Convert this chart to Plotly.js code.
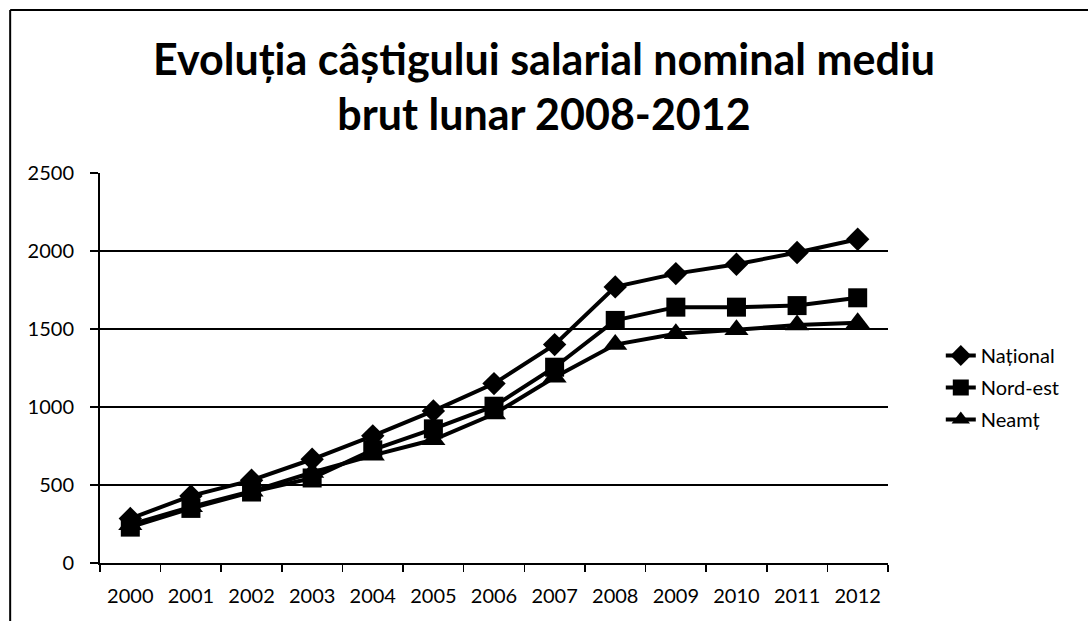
<!DOCTYPE html>
<html>
<head>
<meta charset="utf-8">
<script src="https://cdn.plot.ly/plotly-3.0.1.min.js"></script>
<style>
  html, body { margin: 0; padding: 0; background: #fff; }
  #chart { width: 1088px; height: 621px; }
</style>
</head>
<body>
<div id="chart"></div>
<script>
// Years on the x axis
let years = ["2000", "2001", "2002", "2003", "2004", "2005", "2006", "2007", "2008", "2009", "2010", "2011", "2012"];

// Average gross monthly wage (lei)
let national = [285, 430, 530, 665, 815, 975, 1150, 1400, 1770, 1855, 1915, 1990, 2075];
let nordEst = [230, 350, 455, 545, 725, 860, 1005, 1255, 1555, 1640, 1640, 1650, 1700];
let neamt = [245, 360, 460, 580, 690, 790, 955, 1190, 1400, 1470, 1495, 1525, 1540];

let seriesNames = ["Național", "Nord-est", "Neamț"];
let seriesValues = [national, nordEst, neamt];
let markerSymbols = ["diamond", "square", "triangle-up"];
let markerSizes = [18, 19, 21];

let fontFamily = "Lato, 'Open Sans', sans-serif";

// One trace per series
let traces = seriesNames.map((name, i) => ({
    x: years,
    y: seriesValues[i],
    name: name,
    legendgroup: name,
    type: 'scatter',
    mode: 'lines+markers',
    line: { color: 'black', width: 4 },
    marker: { symbol: markerSymbols[i], size: markerSizes[i], color: 'black' }
}));

let layout = {
    width: 1088,
    height: 621,
    paper_bgcolor: 'white',
    plot_bgcolor: 'white',
    margin: { l: 100, r: 200, t: 173, b: 58 },
    font: { family: fontFamily, color: 'black', size: 20 },
    title: {
        text: 'Evoluția câștigului salarial nominal mediu<br>brut lunar 2008-2012',
        font: { family: fontFamily, size: 43, color: 'black', weight: 'bold' },
        x: 0.5,
        xref: 'container',
        y: 0.88,
        yref: 'container',
        yanchor: 'middle'
    },
    xaxis: {
        type: 'category',
        tickson: 'boundaries',
        ticks: 'outside',
        ticklen: 7,
        tickcolor: 'black',
        tickwidth: 1.5,
        showline: true,
        linecolor: 'black',
        linewidth: 2,
        showgrid: false,
        tickfont: { size: 20 },
        ticklabelstandoff: 14,
        range: [-0.5, 12.5]
    },
    yaxis: {
        range: [0, 2500],
        dtick: 500,
        ticks: 'outside',
        ticklen: 8,
        tickcolor: 'black',
        tickwidth: 1.5,
        showline: true,
        linecolor: 'black',
        linewidth: 2,
        showgrid: true,
        gridcolor: 'black',
        gridwidth: 1.5,
        zeroline: false,
        tickfont: { size: 20 },
        ticklabelstandoff: 12
    },
    legend: {
        x: 1.067,
        xanchor: 'left',
        y: 0.45,
        yanchor: 'middle',
        font: { size: 20 },
        tracegroupgap: 3,
        bgcolor: 'rgba(0,0,0,0)'
    },
    // Outer frame of the chart (left and top edges)
    shapes: [
        { type: 'line', xref: 'paper', yref: 'paper', x0: -0.114, x1: -0.114, y0: 1.418, y1: -0.15,
          line: { color: 'black', width: 2 } },
        { type: 'line', xref: 'paper', yref: 'paper', x0: -0.114, x1: 1.26, y0: 1.418, y1: 1.418,
          line: { color: 'black', width: 2 } }
    ]
};

Plotly.newPlot('chart', traces, layout, { displayModeBar: false, staticPlot: true });
</script>
</body>
</html>
